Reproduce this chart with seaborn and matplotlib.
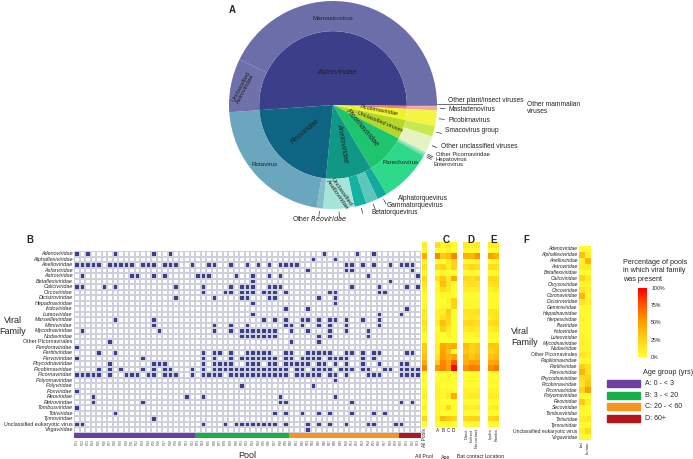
import numpy as np
import matplotlib
matplotlib.use("Agg")
import matplotlib.pyplot as plt
from matplotlib.colors import ListedColormap, LinearSegmentedColormap
from matplotlib.patches import Rectangle
import seaborn as sns

sns.set_style("white")
plt.rcParams['font.family'] = ['Liberation Sans', 'DejaVu Sans']

W, H = 693, 459

# ---------------- Panel A data (sunburst) ----------------
inner_names = ['Other plant/insect viruses', 'Other mammalian viruses', 'Picobirnaviridae',
               'Unclassified viruses', 'Picornaviridae', 'Anelloviridae', 'Reoviridae', 'Astroviridae']
inner_vals = [0.8, 2.2, 8.8, 15.2, 32.0, 36.5, 80.5, 184.0]
inner_cols = ['#d8336c', '#f27a78', '#eef32c', '#b4d82a', '#1fc46f', '#0f9886', '#0d6483', '#3b3e88']

outer_names = ['Other plant/insect viruses', 'Mastadenovirus', 'Picobirnavirus', 'Smacovirus group',
               'Other unclassified viruses', 'Other Picornaviridae', 'Hepatovirus', 'Enterovirus',
               'Parechovirus', 'Alphatorquevirus', 'Gammatorquevirus', 'Betatorquevirus',
               'Unclassified Anelloviridae', 'Other Reoviridae', 'Rotavirus',
               'Unclassified Astroviridae', 'Mamastrovirus']
outer_vals = [0.8, 2.2, 8.8, 5.8, 9.4, 0.8, 0.8, 0.8, 29.6, 5.6, 6.7, 6.7, 17.5, 3.5, 77.0, 30.0, 154.0]
outer_cols = ['#e45a82', '#f6a7a2', '#f3f545', '#c8e84c', '#e6f2c0', '#9fe8c0', '#7fe3ac', '#5fdc9a',
              '#2fd98a', '#11ab9e', '#5cc8bb', '#14b2a2', '#a6e4da', '#84bccb', '#6aa6bd',
              '#6e71aa', '#6b6ea8']

# ---------------- Panel B data (presence per pool) ----------------
families = ['Adenoviridae', 'Alphaflexiviridae', 'Anelloviridae', 'Asfarviridae', 'Astroviridae',
            'Betaflexiviridae', 'Caliciviridae', 'Circoviridae', 'Dicistroviridae', 'Hepadnaviridae',
            'Iridoviridae', 'Luteoviridae', 'Marseilleviridae', 'Mimiviridae', 'Mycodnaviridae',
            'Nodaviridae', 'Other Picornavirales', 'Pandoraviridae', 'Partitiviridae', 'Parvoviridae',
            'Phycodnaviridae', 'Picobirnaviridae', 'Picornaviridae', 'Polyomaviridae', 'Polyviridae',
            'Poxviridae', 'Reoviridae', 'Retroviridae', 'Tombusviridae', 'Totiviridae', 'Tymoviridae',
            'Unclassified eukaryotic virus', 'Virgaviridae']

present = {
    'Adenoviridae': [0, 2, 7, 14, 17, 45, 51, 54],
    'Alphaflexiviridae': [43, 47],
    'Anelloviridae': [0, 1, 2, 3, 4, 6, 7, 8, 9, 10, 12, 13, 14, 16, 17, 18, 21, 24, 25, 28, 31, 33,
                      35, 37, 38, 39, 40, 49, 50, 52, 54, 57, 59, 60, 61],
    'Asfarviridae': [42, 49, 50, 61],
    'Astroviridae': [1, 10, 11, 14, 16, 22, 23, 24, 29, 32, 35, 37, 53, 62],
    'Betaflexiviridae': [32, 57],
    'Caliciviridae': [0, 1, 5, 7, 18, 23, 28, 30, 31, 32, 35, 36, 37, 50, 55, 60, 62],
    'Circoviridae': [23, 27, 28, 30, 31, 32, 34, 35, 36, 38, 46, 47, 55, 56],
    'Dicistroviridae': [18, 25, 30, 31, 35, 36, 44, 47],
    'Hepadnaviridae': [32, 47],
    'Iridoviridae': [38, 42, 60],
    'Luteoviridae': [32, 55, 59],
    'Marseilleviridae': [7, 14, 34, 36, 38, 41, 42, 44, 46, 47, 49, 52, 55],
    'Mimiviridae': [14, 25, 28, 31, 38, 39, 41, 44, 46, 49, 55],
    'Mycodnaviridae': [1, 15, 25, 28, 30, 31, 32, 33, 34, 35, 36, 39, 42, 46, 49, 53],
    'Nodaviridae': [30, 31, 32, 33, 34, 35, 36, 44, 46, 53],
    'Other Picornavirales': [6, 39, 44],
    'Pandoraviridae': [0],
    'Partitiviridae': [4, 7, 23, 25, 26, 28, 31, 32, 33, 34, 35, 38, 39, 42, 43, 44, 45, 46, 49, 50,
                       52, 54, 55, 60, 61],
    'Parvoviridae': [0, 12, 23, 25, 28, 30, 31, 32, 33, 34, 35, 36, 38, 39, 41, 42, 43, 44, 46, 47,
                     48, 49, 52, 54],
    'Phycodnaviridae': [6, 14, 15, 16, 23, 25, 26, 27, 28, 31, 32, 33, 35, 36, 38, 39, 40, 41, 42,
                        44, 45, 47, 49, 52, 55, 59, 60],
    'Picobirnaviridae': [4, 6, 8, 12, 14, 16, 17, 21, 23, 25, 26, 27, 28, 29, 30, 31, 32, 33, 34, 35,
                         36, 37, 38, 40, 41, 43, 44, 45, 46, 48, 49, 50, 52, 53, 56, 57, 59, 60, 61, 62],
    'Picornaviridae': [0, 1, 2, 3, 4, 6, 9, 10, 11, 13, 14, 16, 17, 18, 21, 23, 24, 25, 26, 28, 29,
                       30, 31, 32, 33, 34, 35, 36, 37, 38, 40, 41, 42, 43, 44, 46, 47, 49, 53, 54,
                       55, 59, 60, 61, 62],
    'Polyomaviridae': [47],
    'Polyviridae': [30, 43],
    'Poxviridae': [0],
    'Reoviridae': [3, 20, 23, 37, 47],
    'Retroviridae': [3, 12, 37, 38, 50, 59, 61],
    'Tombusviridae': [0],
    'Totiviridae': [7, 36, 38, 41, 44, 46, 50, 54, 56],
    'Tymoviridae': [14],
    'Unclassified eukaryotic virus': [0, 1, 23, 27, 29, 30, 31, 32, 33, 34, 35, 36, 38, 42, 44, 46,
                                      49, 53, 54, 58, 59],
    'Virgaviridae': [42],
}

pool_labels = ['P%02d' % i for i in range(1, 64)]
pool_age = ['A'] * 22 + ['B'] * 17 + ['C'] * 20 + ['D'] * 4
age_colors = {'A': '#6d3fa0', 'B': '#19b04b', 'C': '#f7941d', 'D': '#b3161d'}
age_text = ['A: 0 - < 3', 'B: 3 - < 20', 'C: 20 - < 60', 'D: 60+']

# ---------------- Panels C/D/E (fraction of pools) ----------------
all_pools = [0.10, 0.03, 0.45, 0.05, 0.18, 0.03, 0.20, 0.15, 0.10, 0.03, 0.04, 0.04, 0.14, 0.12,
             0.18, 0.12, 0.04, 0.02, 0.30, 0.28, 0.35, 0.45, 0.62, 0.02, 0.03, 0.02, 0.06, 0.10,
             0.02, 0.10, 0.02, 0.24, 0.02]
age_A = [0.18, 0.0, 0.60, 0.0, 0.20, 0.0, 0.18, 0.0, 0.05, 0.0, 0.0, 0.0, 0.08, 0.05, 0.08, 0.0,
         0.05, 0.05, 0.08, 0.08, 0.15, 0.25, 0.55, 0.0, 0.0, 0.05, 0.08, 0.08, 0.05, 0.05, 0.05, 0.08, 0.0]
age_B = [0.05, 0.0, 0.30, 0.0, 0.25, 0.05, 0.30, 0.35, 0.20, 0.05, 0.0, 0.05, 0.10, 0.18, 0.35,
         0.28, 0.0, 0.0, 0.45, 0.50, 0.50, 0.60, 0.62, 0.0, 0.05, 0.0, 0.05, 0.05, 0.0, 0.05, 0.0, 0.38, 0.0]
age_C = [0.12, 0.08, 0.35, 0.12, 0.08, 0.05, 0.12, 0.15, 0.12, 0.05, 0.08, 0.05, 0.28, 0.22, 0.22,
         0.12, 0.08, 0.0, 0.40, 0.32, 0.40, 0.48, 0.50, 0.05, 0.05, 0.0, 0.05, 0.12, 0.0, 0.22, 0.0, 0.30, 0.05]
age_D = [0.0, 0.0, 0.60, 0.25, 0.25, 0.0, 0.45, 0.0, 0.0, 0.0, 0.25, 0.25, 0.0, 0.0, 0.0, 0.0, 0.0,
         0.0, 0.45, 0.0, 0.50, 0.75, 1.0, 0.0, 0.0, 0.0, 0.0, 0.45, 0.0, 0.0, 0.0, 0.25, 0.0]
contact_direct = [0.12, 0.04, 0.40, 0.04, 0.15, 0.02, 0.22, 0.15, 0.12, 0.02, 0.04, 0.04, 0.15,
                  0.12, 0.20, 0.12, 0.04, 0.02, 0.35, 0.30, 0.40, 0.42, 0.55, 0.02, 0.02, 0.02,
                  0.08, 0.08, 0.02, 0.12, 0.02, 0.22, 0.02]
contact_indirect = [0.08, 0.02, 0.40, 0.04, 0.22, 0.04, 0.18, 0.18, 0.08, 0.04, 0.04, 0.04, 0.15,
                    0.15, 0.22, 0.15, 0.04, 0.02, 0.25, 0.25, 0.30, 0.50, 0.65, 0.02, 0.04, 0.02,
                    0.04, 0.12, 0.02, 0.08, 0.02, 0.25, 0.02]
contact_none = [0.12, 0.02, 0.55, 0.08, 0.18, 0.02, 0.25, 0.15, 0.12, 0.02, 0.04, 0.04, 0.18, 0.12,
                0.18, 0.12, 0.08, 0.02, 0.30, 0.30, 0.38, 0.50, 0.62, 0.02, 0.02, 0.02, 0.08,
                0.12, 0.02, 0.12, 0.02, 0.25, 0.02]
loc_1 = [0.10, 0.03, 0.50, 0.04, 0.18, 0.03, 0.22, 0.15, 0.08, 0.03, 0.04, 0.04, 0.14, 0.10, 0.18,
         0.10, 0.04, 0.02, 0.30, 0.25, 0.32, 0.45, 0.58, 0.02, 0.03, 0.02, 0.06, 0.10, 0.02, 0.08,
         0.02, 0.22, 0.02]
loc_2 = [0.10, 0.03, 0.40, 0.06, 0.18, 0.03, 0.20, 0.18, 0.12, 0.03, 0.04, 0.04, 0.15, 0.15, 0.22,
         0.14, 0.04, 0.02, 0.30, 0.32, 0.38, 0.48, 0.65, 0.02, 0.03, 0.02, 0.06, 0.10, 0.02, 0.12,
         0.02, 0.26, 0.02]

# ---------------- Panel F data ----------------
families_f = ['Adenoviridae', 'Alphaflexiviridae', 'Anelloviridae', 'Astroviridae', 'Betaflexiviridae',
              'Caliciviridae', 'Chrysoviridae', 'Circoviridae', 'Coronaviridae', 'Dicistroviridae',
              'Geminiviridae', 'Hepadnaviridae', 'Herpesviridae', 'Iflaviridae', 'Iridoviridae',
              'Luteoviridae', 'Mycodnaviridae', 'Nodaviridae', 'Other Picornavirales',
              'Papillomaviridae', 'Partitiviridae', 'Parvoviridae', 'Phycodnaviridae',
              'Picobirnaviridae', 'Picornaviridae', 'Polyomaviridae', 'Reoviridae', 'Secoviridae',
              'Tombusviridae', 'Totiviridae', 'Tymoviridae', 'Unclassified eukaryotic virus',
              'Virgaviridae']
f_bat = [0.02, 0.35, 0.08, 0.10, 0.03, 0.25, 0.06, 0.15, 0.40, 0.15, 0.03, 0.03, 0.06, 0.03, 0.03,
         0.06, 0.08, 0.06, 0.15, 0.03, 0.28, 0.40, 0.20, 0.15, 0.25, 0.05, 0.30, 0.05, 0.03, 0.10,
         0.03, 0.10, 0.03]
f_human = [0.03, 0.08, 0.40, 0.12, 0.03, 0.12, 0.06, 0.10, 0.05, 0.10, 0.03, 0.03, 0.03, 0.03, 0.03,
           0.03, 0.06, 0.06, 0.10, 0.03, 0.18, 0.15, 0.25, 0.30, 0.50, 0.03, 0.10, 0.03, 0.03, 0.12,
           0.03, 0.20, 0.03]

heat_cmap = LinearSegmentedColormap.from_list(
    'pct', ['#ffff30', '#ffd21a', '#ffa000', '#ff5a00', '#ff0000'])
blue = '#3b3e88'


def fax(x0, y0, x1, y1):
    # axes from pixel box (top-left origin)
    return fig.add_axes([x0 / W, 1 - y1 / H, (x1 - x0) / W, (y1 - y0) / H])


fig = plt.figure(figsize=(W / 100, H / 100), dpi=100)

# ================= Panel A =================
axA = fax(333 - 150, 105 - 150, 333 + 150, 105 + 150)
wi, _ = axA.pie(inner_vals, colors=inner_cols, radius=0.71, startangle=0, counterclock=False,
                wedgeprops=dict(linewidth=0))
wo, _ = axA.pie(outer_vals, colors=outer_cols, radius=1.0, startangle=0, counterclock=False,
                wedgeprops=dict(width=0.29, linewidth=0))
axA.set_xlim(-150 / 104, 150 / 104)
axA.set_ylim(-150 / 104, 150 / 104)
axA.set_aspect('equal')
axA.axis('off')

def d(px, py):
    return ((px - 333) / 104, (105 - py) / 104)

inner_lab = [('Astroviridae', 337, 72, 0, 5.4), ('Reoviridae', 305, 131, 40, 5.4),
             ('Anelloviridae', 342, 143, -80, 5.0), ('Picornaviridae', 362, 128, -50, 5.4),
             ('Unclassified viruses', 380, 122, -22, 4.0), ('Picobirnaviridae', 379, 110.5, -11, 4.0)]
for t, px, py, rot, fs in inner_lab:
    axA.text(*d(px, py), t, rotation=rot, fontsize=fs, style='italic', ha='center', va='center',
             color='#222222', rotation_mode='anchor')
outer_lab = [('Mamastrovirus', 333, 18.5, 0), ('Unclassified\nAstroviridae', 243, 88, 62),
             ('Rotavirus', 265, 164, 0), ('Parechovirus', 401, 163, 0),
             ('Unclassified\nAnelloviridae', 339, 193, -55)]
for t, px, py, rot in outer_lab:
    axA.text(*d(px, py), t, rotation=rot, fontsize=4.5, ha='center', va='center', color='#222222',
             rotation_mode='anchor', linespacing=1.0)

side_lab = [('Other plant/insect viruses', 448, 100.5, 4.8), ('Mastadenovirus', 448, 109.5, 4.8),
            ('Picobirnavirus', 448, 120, 4.8), ('Smacovirus group', 445, 131, 4.8),
            ('Other unclassified viruses', 441, 146, 4.8), ('Other Picornaviridae', 436, 154, 4.2),
            ('Hepatovirus', 435, 159.5, 4.2), ('Enterovirus', 433, 165, 4.2),
            ('Alphatorquevirus', 398, 198.5, 4.8), ('Gammatorquevirus', 387, 205.5, 4.8),
            ('Betatorquevirus', 371, 212, 4.8)]
for t, px, py, fs in side_lab:
    axA.text(*d(px, py), t, fontsize=fs, ha='left', va='center', color='#222222')
axA.text(*d(527, 108), 'Other mammalian\nviruses', fontsize=4.8, ha='left', va='center',
         color='#222222', linespacing=1.1)
axA.text(*d(320, 218.5), 'Other $\\it{Reoviridae}$', fontsize=4.8, ha='center', va='center',
         color='#222222')
axA.plot([1.0, (524 - 333) / 104], [0.012, 0.012], color='#333333', lw=0.5)

# leader ticks at small outer wedges
for w, name in zip(wo, outer_names):
    if name in ('Mastadenovirus', 'Picobirnavirus', 'Smacovirus group', 'Other unclassified viruses',
                'Other Picornaviridae', 'Hepatovirus', 'Enterovirus', 'Alphatorquevirus',
                'Gammatorquevirus', 'Betatorquevirus', 'Other Reoviridae', 'Unclassified Anelloviridae'):
        a = np.deg2rad((w.theta1 + w.theta2) / 2)
        axA.plot([1.03 * np.cos(a), 1.08 * np.cos(a)], [1.03 * np.sin(a), 1.08 * np.sin(a)],
                 color='#333333', lw=0.5)

fig.text(232 / W, 1 - 10 / H, 'A', fontsize=7, fontweight='bold', ha='center', va='center')

# ================= Panel B =================
mat = np.zeros((len(families), len(pool_labels)))
for i, f in enumerate(families):
    for c in present[f]:
        mat[i, c] = 1

axB = fax(74, 251, 420.5, 432.5)
sns.heatmap(mat, ax=axB, cmap=ListedColormap(['white', blue]), cbar=False, linewidths=0.3,
            linecolor='#cfd0de', xticklabels=False, yticklabels=families)
axB.tick_params(axis='y', length=0, pad=1, labelsize=3.9)
for lab in axB.get_yticklabels():
    lab.set_style('normal' if lab.get_text().startswith(('Other', 'Unclassified')) else 'italic')
    lab.set_rotation(0)

axBar = fax(74, 433, 420.5, 437.5)
codes = np.array([['ABCD'.index(a) for a in pool_age]])
sns.heatmap(codes, ax=axBar, cmap=ListedColormap([age_colors[k] for k in 'ABCD']), cbar=False,
            xticklabels=pool_labels, yticklabels=False, vmin=-0.5, vmax=3.5)
axBar.tick_params(axis='x', length=0, pad=1, labelsize=2.4, labelrotation=90, colors='#555555')

fig.text(247 / W, 1 - 455 / H, 'Pool', fontsize=6.5, ha='center', va='center')
fig.text(13 / W, 1 - 326 / H, 'Viral\nFamily', fontsize=6.5, ha='center', va='center',
         linespacing=1.4)
fig.text(30 / W, 1 - 240 / H, 'B', fontsize=7, fontweight='bold', ha='center', va='center')

# ================= Panels C / D / E =================
def side_heat(x0, x1, cols, labels, fs=3.4):
    ax = fax(x0, 242, x1, 427)
    data = np.array(cols).T
    sns.heatmap(data, ax=ax, cmap=heat_cmap, vmin=0, vmax=1, cbar=False, linewidths=0,
                xticklabels=labels, yticklabels=False)
    ax.tick_params(axis='x', length=0, pad=1, labelsize=fs, labelrotation=90)
    return ax

side_heat(421.5, 427, [all_pools], ['All Pools'])
axC = side_heat(435, 456.5, [age_A, age_B, age_C, age_D], ['A', 'B', 'C', 'D'])
for lab in axC.get_xticklabels():
    lab.set_rotation(0)
side_heat(463.5, 480, [contact_direct, contact_indirect, contact_none],
          ['Direct', 'Indirect', 'No contact'], fs=2.9)
side_heat(488, 499, [loc_1, loc_2], ['Lyuba', 'Kamba'], fs=2.9)

for t, px in [('All Pool', 424), ('Age', 445.5), ('Bat contact', 470), ('Location', 495)]:
    fig.text(px / W, 1 - 457 / H, t, fontsize=3.8, ha='center', va='center')
for t, px in [('C', 446), ('D', 471), ('E', 494)]:
    fig.text(px / W, 1 - 240 / H, t, fontsize=7, fontweight='bold', ha='center', va='center')

# ================= Panel F =================
axF = fax(579, 246, 591, 440)
sns.heatmap(np.array([f_bat, f_human]).T, ax=axF, cmap=heat_cmap, vmin=0, vmax=1, cbar=False,
            linewidths=0, xticklabels=['bat', 'human'], yticklabels=families_f)
axF.tick_params(axis='x', length=0, pad=1, labelsize=3.0, labelrotation=90)
axF.tick_params(axis='y', length=0, pad=1, labelsize=3.6)
for lab in axF.get_yticklabels():
    lab.set_style('normal' if lab.get_text().startswith(('Other', 'Unclassified')) else 'italic')
    lab.set_rotation(0)
fig.text(511 / W, 1 - 337 / H, 'Viral\nFamily', fontsize=6.5, ha='left', va='center',
         linespacing=1.4)
fig.text(526 / W, 1 - 240 / H, 'F', fontsize=7, fontweight='bold', ha='center', va='center')

# colour scale legend
fig.text(623 / W, 1 - 271 / H, 'Percentage of pools\nin which viral family\nwas present',
         fontsize=5.2, ha='left', va='center', linespacing=1.3)
axCb = fax(638, 288, 647, 357)
axCb.imshow(np.linspace(1, 0, 100)[:, None], aspect='auto', cmap=heat_cmap, vmin=0, vmax=1,
            extent=[0, 1, 0, 1])
axCb.set_xticks([])
axCb.yaxis.tick_right()
axCb.set_yticks([0, 0.25, 0.5, 0.75, 1.0])
axCb.set_yticklabels(['0%', '25%', '50%', '75%', '100%'])
axCb.tick_params(axis='y', length=0, pad=3, labelsize=3.8)
for s in axCb.spines.values():
    s.set_visible(False)

# age group legend
fig.text(643 / W, 1 - 372 / H, 'Age group (yrs)', fontsize=5.2, ha='left', va='center')
for k, (key, txt) in enumerate(zip('ABCD', age_text)):
    yc = 383.5 + 11.6 * k
    fig.patches.append(Rectangle((607 / W, 1 - (yc + 3.6) / H), 32.5 / W, 7.2 / H,
                                 transform=fig.transFigure, color=age_colors[key]))
    fig.text(645 / W, 1 - yc / H, txt, fontsize=5.0, ha='left', va='center')

fig.savefig('out.png', dpi=100)
